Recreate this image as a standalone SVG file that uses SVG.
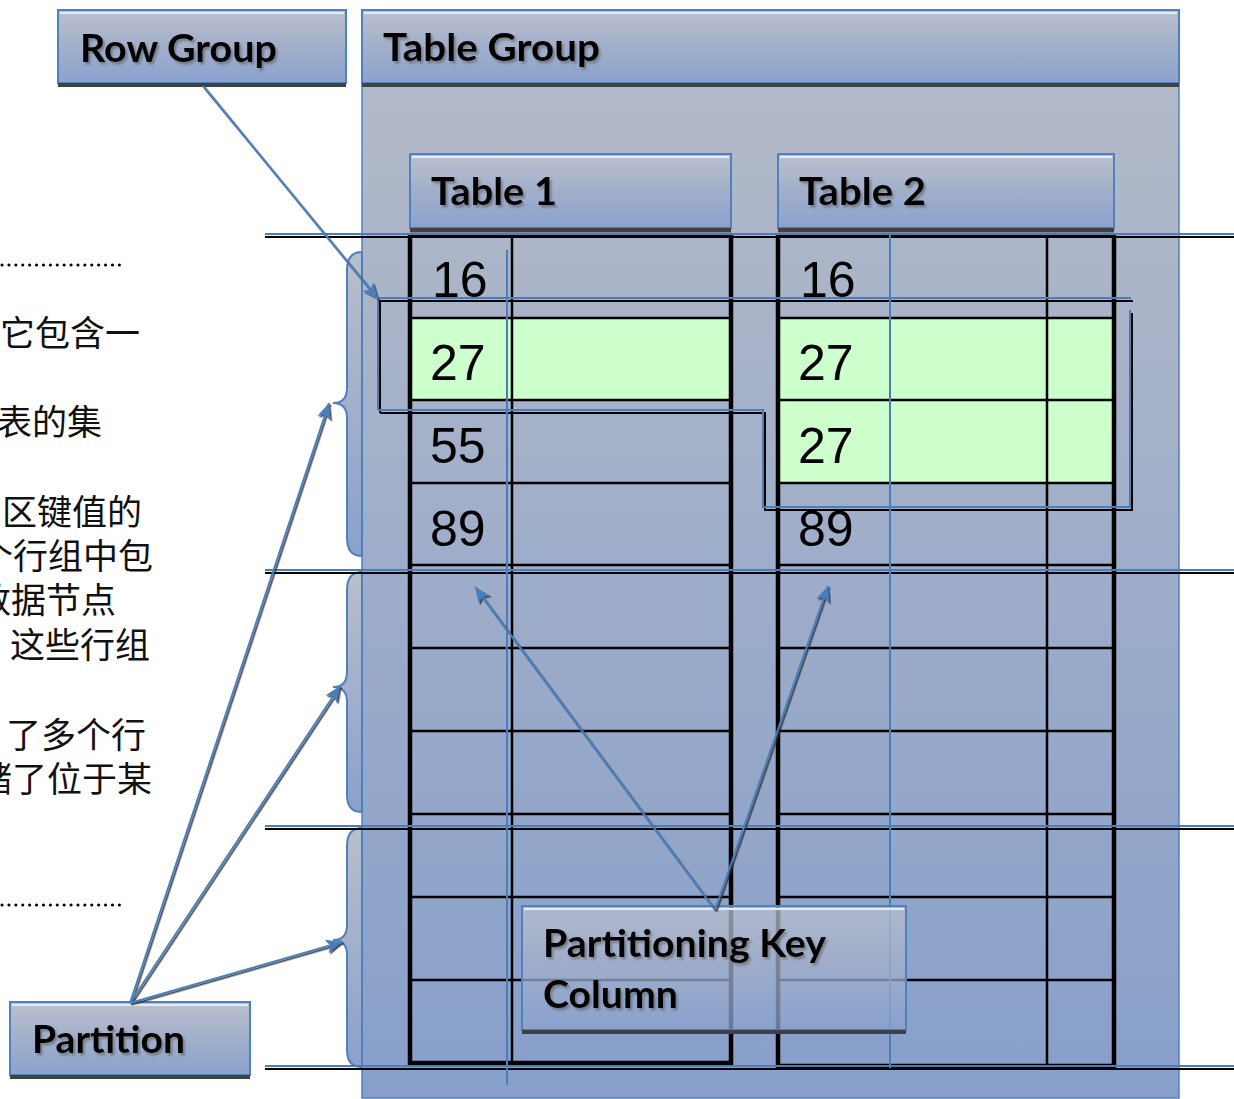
<svg xmlns="http://www.w3.org/2000/svg" width="1234" height="1099" viewBox="0 0 1234 1099">
<defs>
<linearGradient id="boxG" x1="0" y1="0" x2="0" y2="1">
<stop offset="0" stop-color="#bac0cc"/><stop offset="0.5" stop-color="#a2afcb"/><stop offset="1" stop-color="#8aa2cf"/>
</linearGradient>
<linearGradient id="bgG" x1="0" y1="0" x2="0" y2="1">
<stop offset="0" stop-color="#b6bcc8"/><stop offset="1" stop-color="#879fca"/>
</linearGradient>
<linearGradient id="braceG" x1="0" y1="0" x2="0" y2="1">
<stop offset="0" stop-color="#b9bfcb"/><stop offset="1" stop-color="#8aa1cc"/>
</linearGradient>
<filter id="ts" x="-10%" y="-20%" width="130%" height="160%">
<feDropShadow dx="2" dy="2.5" stdDeviation="1" flood-color="#555" flood-opacity="0.55"/>
</filter>
<filter id="ls" x="-5%" y="-5%" width="110%" height="110%">
<feDropShadow dx="1.5" dy="1.5" stdDeviation="0.3" flood-color="#333" flood-opacity="0.9"/>
</filter>
<marker id="ah" markerUnits="userSpaceOnUse" markerWidth="20" markerHeight="16" refX="16" refY="7" orient="auto">
<path d="M0,0 L16,7 L0,14 L4,7 Z" fill="#4a7ebb"/>
</marker>
<style>
.box{fill:url(#boxG);stroke:#4f81bd;stroke-width:2}
.hl{stroke:#e6ecf5;stroke-width:2}
.sh{stroke:#404040;stroke-width:4}
.lbl{font-family:Lato,"Open Sans",sans-serif;font-weight:bold;font-size:38px;fill:#000;filter:url(#ts)}
.num{font-family:"Liberation Sans",Arial,sans-serif;font-size:50px;fill:#000}
.cn{font-family:"Noto Sans CJK SC",sans-serif;font-size:35px;fill:#111}
.thick{stroke:#000;stroke-width:4.5;fill:none}
.thin{stroke:#000;stroke-width:2.5;fill:none}
.bl{stroke:#4a7ebb;stroke-width:2;fill:none}
.blk{stroke:#000;stroke-width:2;fill:none}
.brace{fill:url(#braceG);stroke:#4f81bd;stroke-width:2}
.con{stroke:#4a7ebb;stroke-width:2;fill:none;marker-end:url(#ah)}
.dot{stroke:#000;stroke-width:3;stroke-dasharray:0.1 6.8;stroke-linecap:round}
</style>
</defs>
<rect width="1234" height="1099" fill="#fff"/>

<g id="left-text">
<line class="dot" x1="2" y1="265" x2="124" y2="265"/>
<line class="dot" x1="2" y1="905" x2="124" y2="905"/>
<text class="cn" x="0" y="346">它包含一</text>
<text class="cn" x="-3" y="435">表的集</text>
<text class="cn" x="2" y="525">区键值的</text>
<text class="cn" x="-22" y="569">个行组中包</text>
<text class="cn" x="-24" y="613">数据节点</text>
<text class="cn" x="10" y="658">这些行组</text>
<text class="cn" x="6" y="748">了多个行</text>
<text class="cn" x="-23" y="792">储了位于某</text>
</g>

<g id="table-group">
<rect x="362" y="10" width="817" height="1088" fill="url(#bgG)" stroke="#4f81bd" stroke-width="1.5"/>
<rect x="362" y="10" width="817" height="73" class="box" stroke-width="1.5"/>
<line class="hl" x1="364" y1="13" x2="1177" y2="13"/>
<line x1="362" y1="85" x2="1179" y2="85" class="sh"/>
<text class="lbl" x="383" y="61" textLength="217" lengthAdjust="spacingAndGlyphs">Table Group</text>
</g>

<g id="braces">
<path class="brace" d="M362,252 C352,252 347,258 347,270 L347,388 C347,398 343,403 333,403 C343,403 347,408 347,418 L347,538 C347,550 352,556 362,556 Z"/>
<path class="brace" d="M362,572 C352,572 347,578 347,590 L347,672 C347,682 343,687 333,687 C343,687 347,692 347,702 L347,795 C347,806 352,812 362,812 Z"/>
<path class="brace" d="M362,828 C352,828 347,834 347,846 L347,925 C347,935 343,940 333,940 C343,940 347,945 347,955 L347,1050 C347,1061 352,1067 362,1067 Z"/>
</g>

<g id="table1">
<rect x="410" y="154" width="321" height="74" class="box"/>
<line class="hl" x1="412" y1="157" x2="729" y2="157"/>
<line x1="410" y1="230" x2="731" y2="230" class="sh"/>
<text class="lbl" x="431" y="205" textLength="126" lengthAdjust="spacingAndGlyphs">Table 1</text>
<rect x="412" y="318" width="317" height="82" fill="#ccffcc"/>
<g class="thin">
<line x1="410" y1="318" x2="731" y2="318"/><line x1="410" y1="400" x2="731" y2="400"/>
<line x1="410" y1="483" x2="731" y2="483"/><line x1="410" y1="565" x2="731" y2="565"/>
<line x1="410" y1="648" x2="731" y2="648"/><line x1="410" y1="731" x2="731" y2="731"/>
<line x1="410" y1="814" x2="731" y2="814"/><line x1="410" y1="897" x2="731" y2="897"/>
<line x1="410" y1="980" x2="731" y2="980"/>
<line x1="512" y1="235" x2="512" y2="1063"/>
</g>
<path class="thick" d="M410,233 L410,1063 L731,1063 L731,233 M410,235 L731,235"/>
<text class="num" x="432" y="297">16</text>
<text class="num" x="430" y="380">27</text>
<text class="num" x="430" y="463">55</text>
<text class="num" x="430" y="546">89</text>
</g>

<g id="table2">
<rect x="778" y="154" width="336" height="74" class="box"/>
<line class="hl" x1="780" y1="157" x2="1112" y2="157"/>
<line x1="778" y1="230" x2="1114" y2="230" class="sh"/>
<text class="lbl" x="799" y="205" textLength="127" lengthAdjust="spacingAndGlyphs">Table 2</text>
<rect x="780" y="318" width="332" height="165" fill="#ccffcc"/>
<g class="thin">
<line x1="778" y1="318" x2="1114" y2="318"/><line x1="778" y1="400" x2="1114" y2="400"/>
<line x1="778" y1="483" x2="1114" y2="483"/><line x1="778" y1="565" x2="1114" y2="565"/>
<line x1="778" y1="648" x2="1114" y2="648"/><line x1="778" y1="731" x2="1114" y2="731"/>
<line x1="778" y1="814" x2="1114" y2="814"/><line x1="778" y1="897" x2="1114" y2="897"/>
<line x1="778" y1="980" x2="1114" y2="980"/>
<line x1="1047" y1="235" x2="1047" y2="1066"/>
</g>
<path class="thick" d="M778,233 L778,1066 L1114,1066 L1114,233 M778,235 L1114,235"/>
<text class="num" x="800" y="297">16</text>
<text class="num" x="798" y="380">27</text>
<text class="num" x="798" y="463">27</text>
<text class="num" x="798" y="546">89</text>
</g>

<g id="partition-lines">
<g class="blk">
<line x1="265" y1="237" x2="1234" y2="237"/><line x1="265" y1="573" x2="1234" y2="573"/>
<line x1="265" y1="829" x2="1234" y2="829"/><line x1="265" y1="1069" x2="1234" y2="1069"/>
</g>
<g class="bl">
<line x1="265" y1="234" x2="1234" y2="234"/><line x1="265" y1="570" x2="1234" y2="570"/>
<line x1="265" y1="826" x2="1234" y2="826"/><line x1="265" y1="1066" x2="1234" y2="1066"/>
</g>
</g>

<g id="row-group-outline">
<path class="blk" d="M380,413 L380,301 L1133,301 M1132,313 L1132,510 L765,510 L765,413 L380,413"/>
<path class="bl" d="M378,410 L378,298 L1131,298 M1130,310 L1130,507 L763,507 L763,410 L378,410"/>
</g>

<g id="key-column-lines" class="bl">
<line x1="507" y1="250" x2="507" y2="1085"/>
<line x1="890" y1="235" x2="890" y2="1068"/>
</g>

<g id="row-group">
<rect x="58" y="10" width="288" height="73" class="box"/>
<line class="hl" x1="60" y1="13" x2="344" y2="13"/>
<line x1="58" y1="85" x2="346" y2="85" class="sh"/>
<text class="lbl" x="80" y="62" textLength="197" lengthAdjust="spacingAndGlyphs">Row Group</text>
</g>

<g id="partition">
<rect x="10" y="1002" width="240" height="73" class="box"/>
<line class="hl" x1="12" y1="1005" x2="248" y2="1005"/>
<line x1="10" y1="1077" x2="250" y2="1077" class="sh"/>
<text class="lbl" x="32" y="1053" textLength="153" lengthAdjust="spacingAndGlyphs">Partition</text>
</g>

<g id="key-column">
<rect x="522" y="906" width="384" height="124" fill="url(#boxG)" fill-opacity="0.75" stroke="#4f81bd" stroke-width="2"/>
<line class="hl" x1="524" y1="909" x2="904" y2="909"/>
<line x1="522" y1="1032" x2="906" y2="1032" stroke="#3a3f4c" stroke-width="4"/>
<text class="lbl" x="543" y="957" textLength="283" lengthAdjust="spacingAndGlyphs">Partitioning Key</text>
<text class="lbl" x="543" y="1008" textLength="135" lengthAdjust="spacingAndGlyphs">Column</text>
</g>

<g id="connectors" filter="url(#ls)">
<line class="con" x1="203" y1="86" x2="378" y2="299"/>
<line class="con" x1="130" y1="1003" x2="329" y2="403"/>
<line class="con" x1="130" y1="1003" x2="340" y2="686"/>
<line class="con" x1="130" y1="1003" x2="342" y2="942"/>
<line class="con" x1="715" y1="910" x2="475" y2="587"/>
<line class="con" x1="715" y1="910" x2="828" y2="586"/>
</g>
</svg>
